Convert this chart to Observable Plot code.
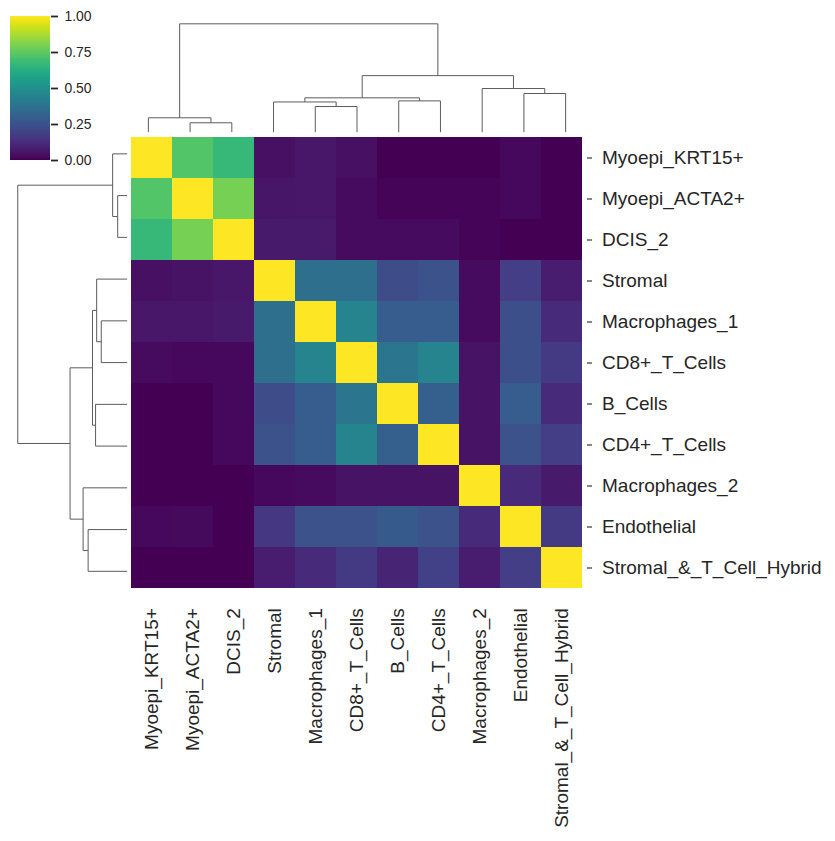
<!DOCTYPE html>
<html><head><meta charset="utf-8">
<script src="https://cdn.jsdelivr.net/npm/d3@7"></script>
<script src="https://cdn.jsdelivr.net/npm/@observablehq/plot@0.6"></script>
<style>
body{margin:0;background:#fff}
#chart{position:relative;width:835px;height:841px}
#chart svg{position:absolute;top:0;left:0}
</style>
</head><body><div id="chart"></div>
<script>
// Leaf order (rows and columns share the clustered order)
const labels = ["Myoepi_KRT15+","Myoepi_ACTA2+","DCIS_2","Stromal","Macrophages_1","CD8+_T_Cells","B_Cells","CD4+_T_Cells","Macrophages_2","Endothelial","Stromal_&_T_Cell_Hybrid"];

// Similarity matrix, row by row
const matrix = [
  [1.00,0.73,0.67,0.04,0.06,0.04,0.00,0.00,0.00,0.02,0.00],
  [0.73,1.00,0.79,0.055,0.06,0.03,0.01,0.01,0.01,0.02,0.00],
  [0.67,0.79,1.00,0.07,0.07,0.03,0.03,0.03,0.01,0.00,0.00],
  [0.04,0.05,0.06,1.00,0.36,0.36,0.23,0.25,0.03,0.18,0.08],
  [0.06,0.06,0.07,0.36,1.00,0.45,0.29,0.29,0.03,0.24,0.12],
  [0.03,0.02,0.02,0.36,0.45,1.00,0.39,0.45,0.05,0.24,0.17],
  [0.00,0.00,0.02,0.23,0.29,0.39,1.00,0.30,0.05,0.29,0.12],
  [0.00,0.00,0.02,0.25,0.29,0.45,0.30,1.00,0.05,0.25,0.18],
  [0.00,0.00,0.00,0.02,0.03,0.05,0.05,0.05,1.00,0.12,0.07],
  [0.02,0.025,0.00,0.16,0.25,0.25,0.28,0.25,0.12,1.00,0.17],
  [0.00,0.00,0.00,0.08,0.12,0.17,0.10,0.19,0.08,0.18,1.00]
];

// Hierarchical linkage: [child A, child B, height]; ids >= 11 are earlier merges
const merges = [
  [1, 2, 0.087],
  [0, 11, 0.133],
  [4, 5, 0.237],
  [3, 13, 0.279],
  [6, 7, 0.289],
  [14, 15, 0.317],
  [9, 10, 0.357],
  [8, 17, 0.403],
  [16, 18, 0.522],
  [12, 19, 1.0]
];

const colorbarTicks = [0, 0.25, 0.5, 0.75, 1];

const font = "'Liberation Sans', Arial, sans-serif";
const treeColor = "#5c5c5c";
const color = {type: "linear", scheme: "viridis", domain: [0, 1]};

const cells = labels.flatMap((r, i) => labels.map((c, j) => ({row: r, col: c, value: matrix[i][j]})));

// Dendrogram segments from linkage
const pos = labels.map((_, i) => i + 0.5);
const hgt = labels.map(() => 0);
const segs = [];
merges.forEach(([a, b, h]) => {
  segs.push({p1: pos[a], h1: hgt[a], p2: pos[a], h2: h});
  segs.push({p1: pos[a], h1: h, p2: pos[b], h2: h});
  segs.push({p1: pos[b], h1: h, p2: pos[b], h2: hgt[b]});
  pos.push((pos[a] + pos[b]) / 2);
  hgt.push(h);
});
const maxH = d3.max(merges, d => d[2]) * 1.05;

const chart = document.getElementById("chart");

// Heatmap
chart.append(Plot.plot({
  width: 835, height: 841,
  marginLeft: 127, marginRight: 249, marginTop: 132.5, marginBottom: 249.3,
  x: {type: "band", domain: labels, padding: 0},
  y: {type: "band", domain: labels, padding: 0},
  color,
  style: {background: "transparent", fontFamily: font, color: "#262626"},
  marks: [
    Plot.cell(cells, {x: "col", y: "row", fill: "value", shapeRendering: "crispEdges"}),
    Plot.axisY({anchor: "right", tickSize: 5, tickPadding: 10.5, fontSize: 19, label: null, strokeWidth: 1.1}),
    Plot.axisX({anchor: "bottom", tickSize: 0, tickPadding: 16, tickRotate: -90, fontSize: 19, label: null})
  ]
}));

// Column dendrogram (top)
chart.append(Plot.plot({
  width: 835, height: 133,
  marginLeft: 127, marginRight: 249, marginTop: 17.9, marginBottom: 1.3,
  x: {domain: [0, labels.length], axis: null},
  y: {domain: [0, maxH], axis: null},
  style: {background: "transparent"},
  marks: [
    Plot.link(segs, {x1: "p1", y1: "h1", x2: "p2", y2: "h2", stroke: treeColor, strokeWidth: 1})
  ]
}));

// Row dendrogram (left)
chart.append(Plot.plot({
  width: 130, height: 841,
  marginLeft: 11.8, marginRight: 3.3, marginTop: 132.5, marginBottom: 249.3,
  x: {domain: [0, maxH], reverse: true, axis: null},
  y: {domain: [0, labels.length], reverse: true, axis: null},
  style: {background: "transparent"},
  marks: [
    Plot.link(segs, {x1: "h1", y1: "p1", x2: "h2", y2: "p2", stroke: treeColor, strokeWidth: 1})
  ]
}));

// Colorbar
const nSteps = 144;
const steps = d3.range(nSteps).map(i => i / nSteps);
chart.append(Plot.plot({
  width: 130, height: 180,
  marginLeft: 10, marginRight: 80, marginTop: 16, marginBottom: 20,
  x: {domain: [0, 1], axis: null},
  y: {domain: [0, 1]},
  color,
  style: {background: "transparent", fontFamily: font, color: "#262626"},
  marks: [
    Plot.rect(steps, {x1: 0, x2: 1, y1: d => d, y2: d => d + 1 / nSteps, fill: d => d + 0.5 / nSteps, shapeRendering: "crispEdges"}),
    Plot.axisY({anchor: "right", ticks: colorbarTicks, tickFormat: d3.format(".2f"), tickSize: 7, tickPadding: 7, fontSize: 13.9, strokeWidth: 1.8, label: null})
  ]
}));
</script>
</body></html>
